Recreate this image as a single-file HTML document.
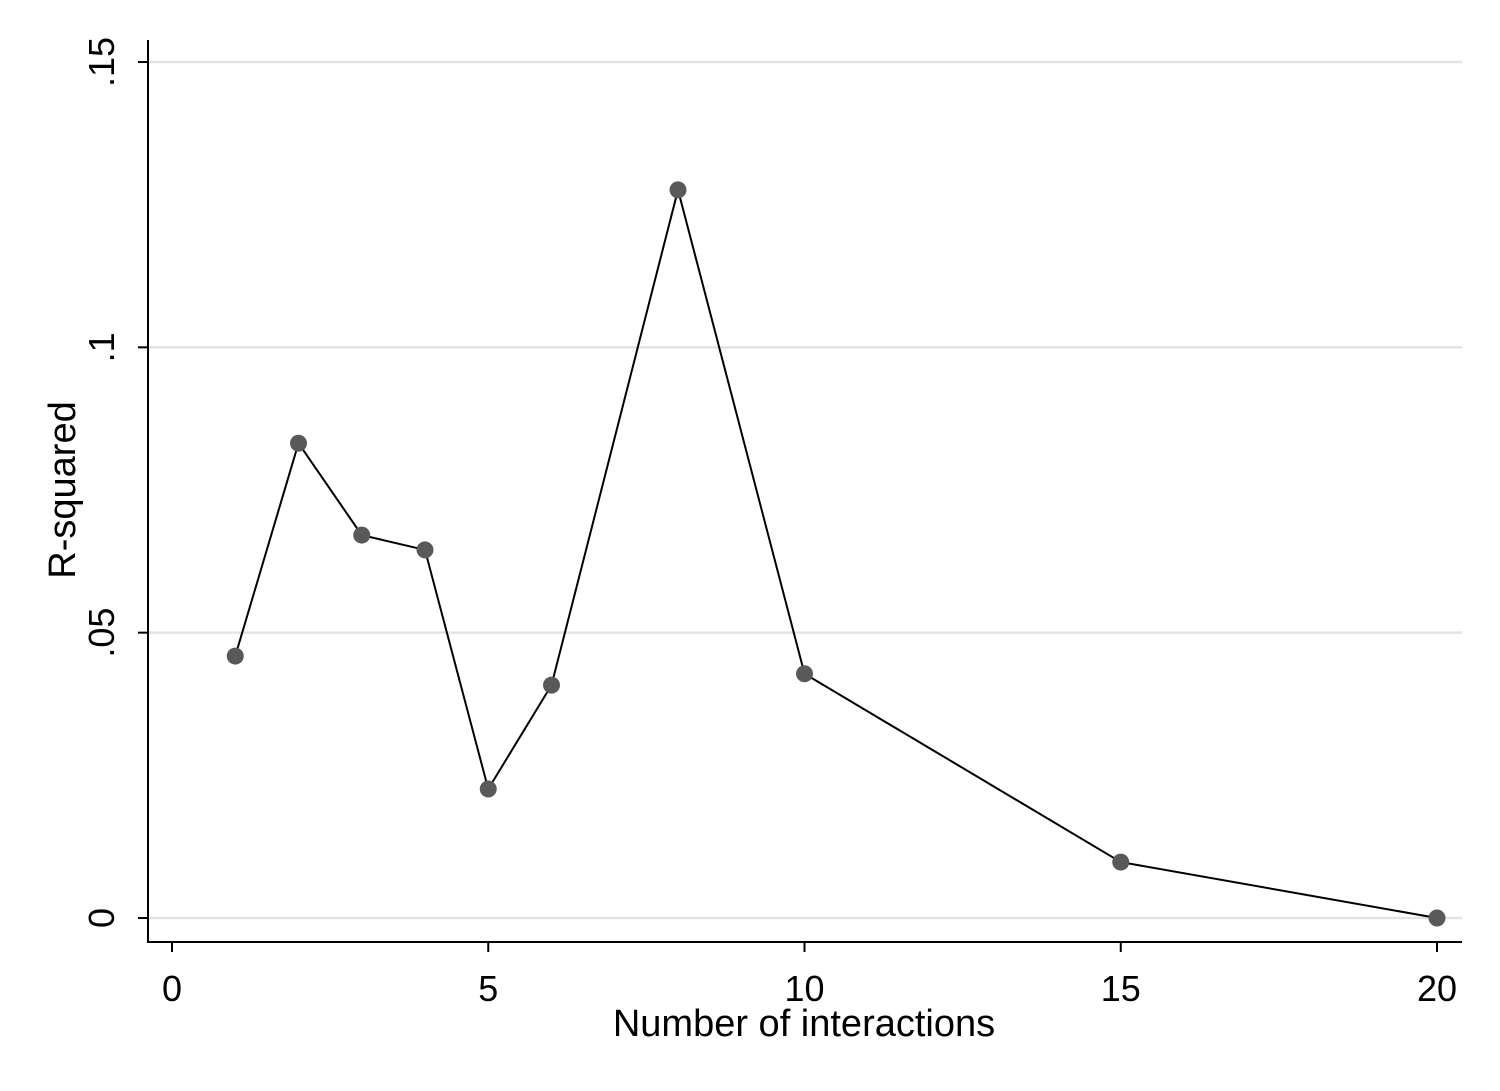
<!DOCTYPE html>
<html><head><meta charset="utf-8"><style>body{margin:0;background:#fff}svg{display:block}text{font-family:"Liberation Sans",sans-serif;fill:#000}</style></head>
<body>
<svg id="chart" width="1500" height="1091" viewBox="0 0 1500 1091" xmlns="http://www.w3.org/2000/svg">
<rect width="1500" height="1091" fill="#fff"/>
<g id="grid"></g><g id="axes"></g><g id="series"></g>
<text x="804" y="1036" text-anchor="middle" font-size="38">Number of interactions</text>
<text transform="translate(75,490) rotate(-90)" text-anchor="middle" font-size="38">R-squared</text>
</svg>
<script>
const xs=[1,2,3,4,5,6,8,10,15,20];
const rsq=[0.0459,0.0832,0.0671,0.0645,0.0226,0.0408,0.1276,0.0428,0.0098,0];
const xTicks=[0,5,10,15,20];
const xTickLabels=["0","5","10","15","20"];
const yTicks=[0,0.05,0.1,0.15];
const yTickLabels=["0",".05",".1",".15"];
const NS="http://www.w3.org/2000/svg";
const X=v=>172+v*(1437-172)/20;
const Y=v=>918-v*(918-62)/0.15;
function mk(p,t,a){const e=document.createElementNS(NS,t);for(const k in a)e.setAttribute(k,a[k]);p.appendChild(e);return e;}
const grid=document.getElementById('grid'),axes=document.getElementById('axes'),ser=document.getElementById('series');
yTicks.forEach((v,i)=>{
 const g=mk(grid,'line',{x1:148,x2:1462,y1:Y(v),y2:Y(v),stroke:'#e3e3e3','stroke-width':2.5});
 
 
 const t=mk(axes,'line',{x1:138,x2:148,y1:Y(v),y2:Y(v),stroke:'#000','stroke-width':2});
 
 
 const l=mk(axes,'text',{transform:`translate(114,${Y(v)}) rotate(-90)`,'text-anchor':'middle','font-size':36});
 l.textContent=yTickLabels[i];
 
 
});
xTicks.forEach((v,i)=>{
 const t=mk(axes,'line',{x1:X(v),x2:X(v),y1:942,y2:952,stroke:'#000','stroke-width':2});
 
 
 const l=mk(axes,'text',{x:X(v),y:1001,'text-anchor':'middle','font-size':36});
 l.textContent=xTickLabels[i];
 
 
});
const ya=mk(axes,'line',{x1:148,x2:148,y1:40,y2:942,stroke:'#000','stroke-width':2});


const xa=mk(axes,'line',{x1:147,x2:1462,y1:942,y2:942,stroke:'#000','stroke-width':2});


const pl=mk(ser,'polyline',{points:xs.map((x,i)=>X(x)+','+Y(rsq[i])).join(' '),fill:'none',stroke:'#000','stroke-width':2});


xs.forEach((x,i)=>{
 const c=mk(ser,'circle',{cx:X(x),cy:Y(rsq[i]),r:8.5,fill:'#595959'});
 
 
});
</script>
</body></html>
